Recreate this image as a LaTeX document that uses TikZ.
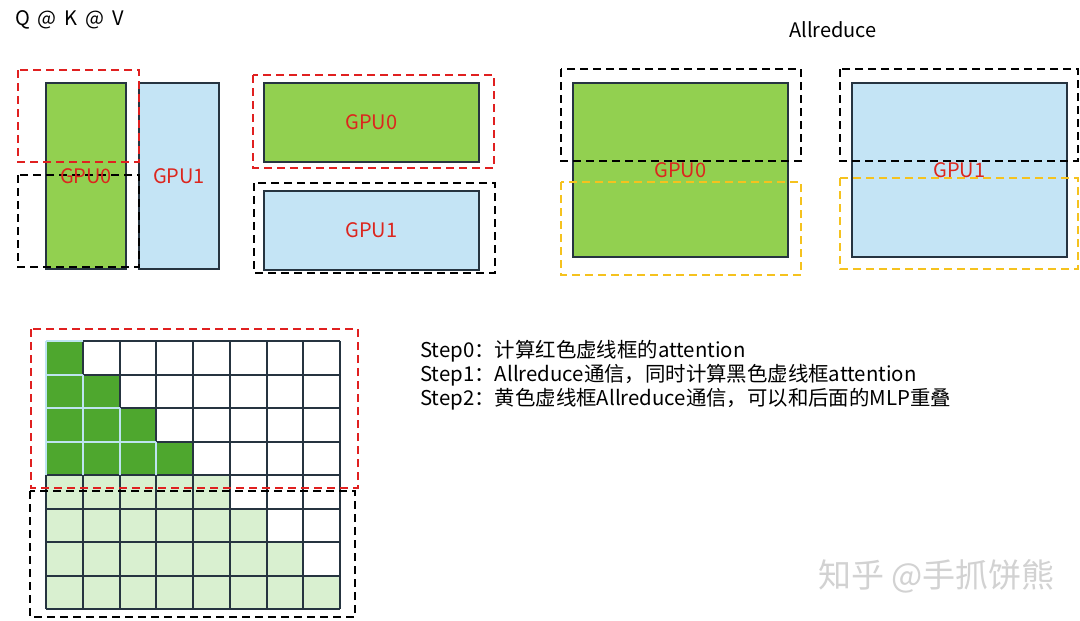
\documentclass[tikz,border=0pt]{standalone}
\usepackage{fontspec}
\setmainfont{Noto Sans CJK SC}
\definecolor{gpugreen}{RGB}{146,208,80}
\definecolor{gpublue}{RGB}{196,228,245}
\definecolor{rectline}{RGB}{38,52,64}
\definecolor{gpured}{RGB}{220,38,30}
\definecolor{boxred}{RGB}{224,32,32}
\definecolor{boxyellow}{RGB}{245,194,30}
\definecolor{celldark}{RGB}{78,167,46}
\definecolor{celllight}{RGB}{217,240,208}
\definecolor{celledge}{RGB}{190,228,240}
\usetikzlibrary{positioning}

\begin{document}
\begin{tikzpicture}[x=1pt,y=-1pt,
  every node/.style={font=\fontsize{20}{24}\selectfont,inner sep=0pt},
  gpuzero/.style={draw=rectline,line width=1.8pt,fill=gpugreen},
  gpuone/.style={draw=rectline,line width=1.8pt,fill=gpublue},
  gpulabel/.style={text=gpured},
  redbox/.style={draw=boxred,line width=2.2pt,dash pattern=on 8pt off 5pt},
  blackbox/.style={draw=black,line width=2.2pt,dash pattern=on 8pt off 5pt},
  yellowbox/.style={draw=boxyellow,line width=2.2pt,dash pattern=on 8pt off 5pt},
  gridline/.style={draw=rectline,line width=2pt},
  edgeline/.style={draw=celledge,line width=2pt},
  steptext/.style={anchor=west,font=\fontsize{20.4}{24}\selectfont}
]
\useasboundingbox[fill=white] (0,0) rectangle (1080,621);

% Q @ K @ V
\node[anchor=west] (qkv) at (15,20) {Q\,\ @\,\ K\,\ @\,\ V};
\node[gpuzero,minimum width=80,minimum height=186] (l0) at (86,176) {};
\node[gpuone,minimum width=80,minimum height=186] (l1) at (179,176) {};
\draw[redbox] (18,70) rectangle (139,162);
\draw[blackbox] (18,175) rectangle (139,267);
\node[gpulabel] at (l0.center) {GPU0};
\node[gpulabel] at (l1.center) {GPU1};

\node[gpuzero,minimum width=215,minimum height=79] (m0) at (371.5,122.5) {};
\node[gpuone,minimum width=215,minimum height=79] (m1) at (371.5,230.5) {};
\draw[redbox] (253,75) rectangle (494,168);
\draw[blackbox] (254,183) rectangle (495,273);
\node[gpulabel] at (m0.center) {GPU0};
\node[gpulabel] at (m1.center) {GPU1};

% Allreduce
\node (allred) at (833,30) {Allreduce};
\node[gpuzero,minimum width=215,minimum height=174] (r0) at (680.5,170) {};
\node[gpuone,minimum width=215,minimum height=174] (r1) at (959.5,170) {};
\draw[blackbox] (561,69) rectangle (801,161);
\draw[yellowbox] (561,182) rectangle (801,275);
\draw[blackbox] (840,69) rectangle (1078,161);
\draw[yellowbox] (840,178) rectangle (1078,269);
\node[gpulabel] at (r0.center) {GPU0};
\node[gpulabel] at (r1.center) {GPU1};

% Causal mask
\begin{scope}[shift={(46,341)},x=36.75pt,y=-33.5pt]
\foreach \r in {0,...,7}
  \foreach \c in {0,...,\r} {
    \ifnum\r<4 \fill[celldark] (\c,\r) rectangle ++(1,1);
    \else \fill[celllight] (\c,\r) rectangle ++(1,1); \fi
  }
\foreach \i in {0,...,8} {
  \draw[gridline] (\i,0) -- (\i,8);
  \draw[gridline] (0,\i) -- (8,\i);
}
\foreach \r in {0,...,3}
  \foreach \c in {0,...,\r} {
    \draw[edgeline] (\c,\r) -- ++(0,1);
    \ifnum\c<\r \draw[edgeline] (\c,\r) -- ++(1,0); \fi
    \ifnum\r=0 \draw[edgeline] (\c,\r) -- ++(1,0); \fi
  }
\end{scope}
\draw[redbox] (31,329) rectangle (358,488);
\draw[blackbox] (30,491) rectangle (355,617);

% Steps
\node[steptext] (s0) at (420,351) {Step0：计算红色虚线框的attention};
\node[steptext] (s1) at (420,375) {Step1：Allreduce通信，同时计算黑色虚线框attention};
\node[steptext] (s2) at (420,399) {Step2：黄色虚线框Allreduce通信，可以和后面的MLP重叠};

% Watermark
\node[anchor=west,text=gray!35,font=\fontsize{33}{36}\selectfont] (mark) at (818,576) {知乎 @手抓饼熊};
\end{tikzpicture}
\end{document}
